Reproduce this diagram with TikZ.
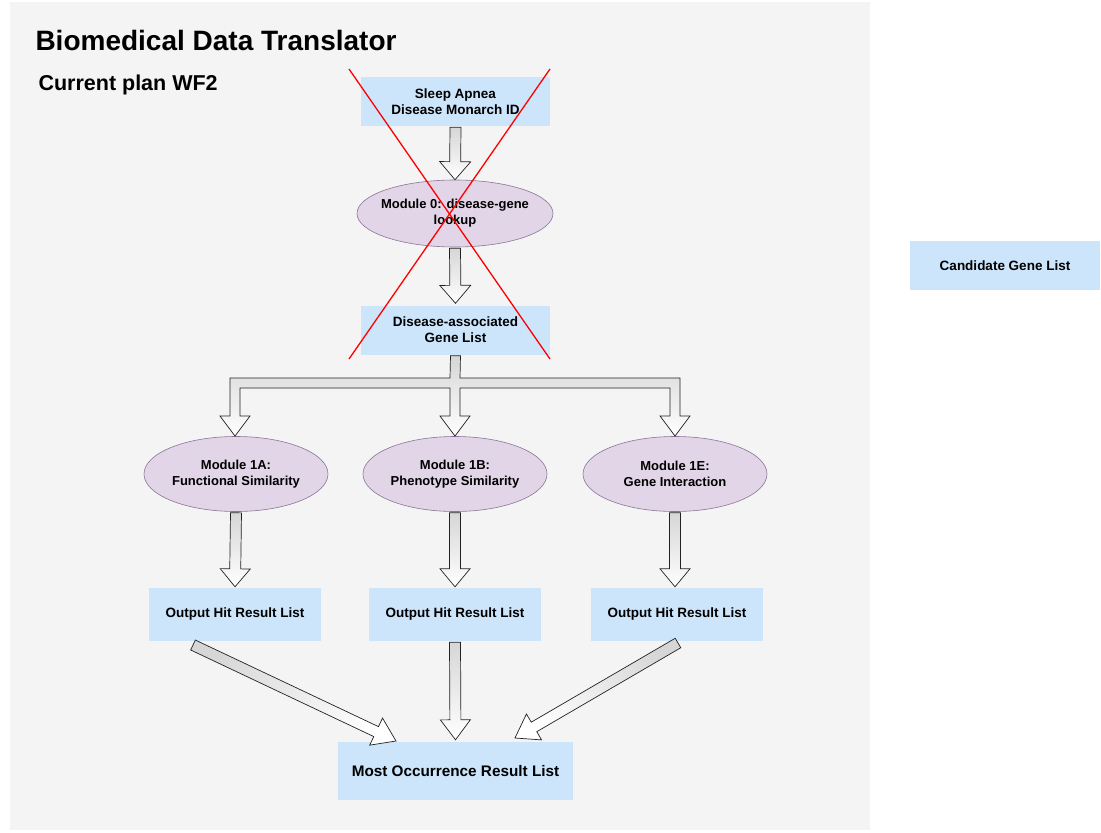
\documentclass[tikz,border=0pt]{standalone}
\usepackage{fontspec}
\setmainfont{Liberation Sans}
\usetikzlibrary{shapes.geometric,calc}
\definecolor{bgpanel}{HTML}{F4F4F4}
\definecolor{boxblue}{HTML}{CCE5FB}
\definecolor{ellfill}{HTML}{E1D5E7}
\definecolor{elldraw}{HTML}{8A7596}
\definecolor{arrdraw}{HTML}{222222}
\newcommand\blockarrow[5]{%
  \path (#1) coordinate (ba-s) (#2) coordinate (ba-e);%
  \pgfpointdiff{\pgfpointanchor{ba-s}{center}}{\pgfpointanchor{ba-e}{center}}%
  \pgfgetlastxy\bdx\bdy
  \pgfmathsetmacro\bshade{atan2(\bdy,\bdx)+90}%
  \path ($(ba-e)!#5pt!(ba-s)$) coordinate (ba-h);%
  \draw[blockarr, shading angle=\bshade]
    ($(ba-s)!#3pt!90:(ba-e)$) -- ($(ba-h)!#3pt!90:(ba-e)$) -- ($(ba-h)!#4pt!90:(ba-e)$)
    -- (ba-e) -- ($(ba-h)!#4pt!-90:(ba-e)$) -- ($(ba-h)!#3pt!-90:(ba-e)$)
    -- ($(ba-s)!#3pt!-90:(ba-e)$) -- cycle;}
\begin{document}
\begin{tikzpicture}[x=1pt,y=-1pt,
  box/.style={fill=boxblue, draw=none, align=center, inner sep=0pt,
    font=\bfseries\fontsize{13.5}{16}\selectfont},
  ell/.style={ellipse, fill=ellfill, draw=elldraw, line width=0.6pt, align=center,
    inner sep=0pt, font=\bfseries\fontsize{13}{16}\selectfont},
  blockarr/.style={draw=arrdraw, line width=0.7pt, top color=gray!32, bottom color=white},
  crossline/.style={red, line width=1.3pt}]
\useasboundingbox (0,0) rectangle (1101,833);
\fill[bgpanel] (10,2) rectangle (870,830);

\node[anchor=base west, font=\bfseries\fontsize{28}{32}\selectfont] (title) at (32,50) {Biomedical Data Translator};
\node[anchor=base west, font=\bfseries\fontsize{21.5}{25}\selectfont] (plan) at (35,90) {Current plan WF2};

\node[box, minimum width=189, minimum height=49] (sa) at (455.5,101.5) {Sleep Apnea\\Disease Monarch ID};
\node[ell, inner xsep=-12pt, minimum width=196, minimum height=67] (m0) at (455,213.5) {Module 0: disease-gene\\lookup};
\node[box, minimum width=189, minimum height=49] (dal) at (455.5,330) {Disease-associated\\Gene List};

\node[ell, minimum width=184, minimum height=75] (m1a) at (236,474) {Module 1A:\\Functional Similarity};
\node[ell, minimum width=184, minimum height=75] (m1b) at (455,474) {Module 1B:\\Phenotype Similarity};
\node[ell, minimum width=184, minimum height=75] (m1e) at (675,474) {Module 1E:\\Gene Interaction};

\node[box, minimum width=172, minimum height=53] (o1) at (235,614.5) {Output Hit Result List};
\node[box, minimum width=172, minimum height=53] (o2) at (455,614.5) {Output Hit Result List};
\node[box, minimum width=172, minimum height=53] (o3) at (677,614.5) {Output Hit Result List};

\node[box, minimum width=235, minimum height=58, font=\bfseries\fontsize{15.3}{18}\selectfont] (most) at (455.5,771) {Most Occurrence Result List};

\node[box, minimum width=190, minimum height=49, font=\bfseries\fontsize{13.5}{16}\selectfont] (cand) at (1005,265.5) {Candidate Gene List};

% top arrows
\blockarrow{$(sa.south)+(0,1)$}{m0.north}{5.5}{15.5}{18}
\blockarrow{$(m0.south)+(0,1)$}{$(dal.north)+(0,-2)$}{5.5}{15.5}{18}

% branching arrow
\coordinate (brs) at (dal.south);
\draw[blockarr] ($(brs)+(-5,1)$) -- (450,378) -- (230,378) -- (230,416) -- (220,416) -- (235,436)
  -- (250,416) -- (240,416) -- (240,388) -- (450,388) -- (450,416) -- (440,416) -- (455,436)
  -- (470,416) -- (460,416) -- (460,388) -- (670,388) -- (670,416) -- (660,416) -- (675,436)
  -- (690,416) -- (680,416) -- (680,378) -- (460,378) -- ($(brs)+(5,1)$) -- cycle;

% module to output arrows
\blockarrow{$(m1a.south)+(0,1)$}{$(o1.north)+(0,-1)$}{5.5}{15}{18}
\blockarrow{$(m1b.south)+(0,1)$}{$(o2.north)+(0,-1)$}{5.5}{15}{18}
\blockarrow{$(m1e.south)+(0,1)$}{$(o3.north)+(-2,-1)$}{5.5}{15}{18}

% outputs to most
\coordinate (d1s) at (193,645);
\coordinate (d1e) at (396,741);
\coordinate (d3s) at (678,643);
\coordinate (d3e) at (515,738);
\blockarrow{d1s}{d1e}{5.5}{15}{22}
\blockarrow{$(o2.south)+(0,1)$}{$(most.north)+(0,-2)$}{5.5}{15}{20}
\blockarrow{d3s}{d3e}{5.5}{15}{22}

% red cross
\draw[crossline] (349,69) -- (550,359);
\draw[crossline] (550,69) -- (349,359);
\end{tikzpicture}
\end{document}
